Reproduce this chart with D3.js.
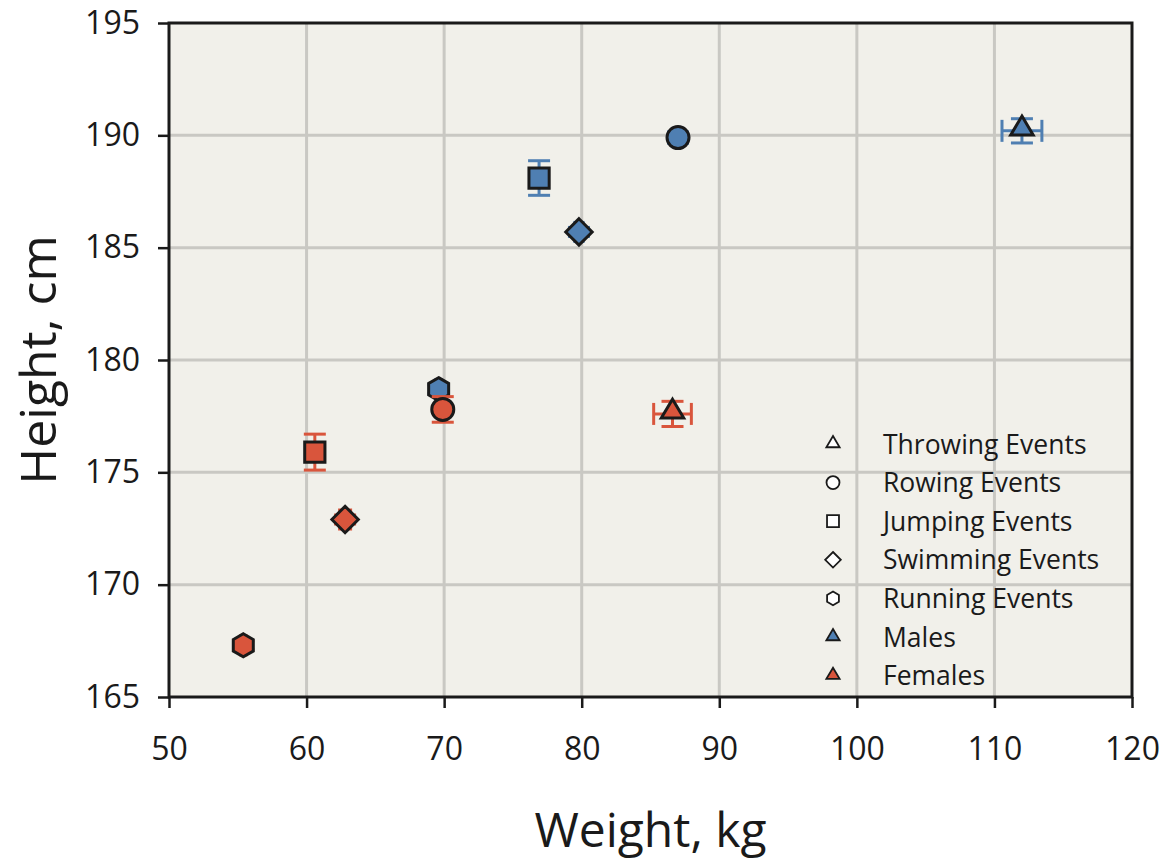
<!DOCTYPE html>
<html>
<head>
<meta charset="utf-8">
<script src="https://cdn.jsdelivr.net/npm/d3@7"></script>
<style>
  html, body { margin: 0; padding: 0; background: #ffffff; }
  svg text { font-family: "Open Sans", "Noto Sans", sans-serif; fill: #1a1a1a; }
</style>
</head>
<body>
<svg id="chart" width="1171" height="863"></svg>
<script>
// ---- Data ----
const events = ["Throwing", "Rowing", "Jumping", "Swimming", "Running"];
const shapes = ["triangle", "circle", "square", "diamond", "hexagon"];
const maleWeight   = [112.0, 87.0, 76.9, 79.8, 69.6];
const maleHeight   = [190.2, 189.9, 188.1, 185.7, 178.7];
const maleWeightErr = [1.45, 0.3, 0.0, 0.3, 0.2];
const maleHeightErr = [0.54, 0.25, 0.77, 0.2, 0.2];
const femaleWeight = [86.6, 69.9, 60.6, 62.8, 55.4];
const femaleHeight = [177.6, 177.8, 175.9, 172.9, 167.3];
const femaleWeightErr = [1.37, 0.3, 0.0, 0.4, 0.2];
const femaleHeightErr = [0.56, 0.57, 0.8, 0.2, 0.2];
const xTicks = [50, 60, 70, 80, 90, 100, 110, 120];
const yTicks = [165, 170, 175, 180, 185, 190, 195];
const legendLabels = ["Throwing Events", "Rowing Events", "Jumping Events", "Swimming Events", "Running Events", "Males", "Females"];
const legendShapes = ["triangle", "circle", "square", "diamond", "hexagon", "triangle", "triangle"];
const legendFills = ["#ffffff", "#ffffff", "#ffffff", "#ffffff", "#ffffff", "#4f7fb2", "#d9553c"];
const maleColor = "#4f7fb2";
const femaleColor = "#d9553c";

// ---- Layout ----
const svg = d3.select("#chart");
const L = 169, R = 1132, T = 23, B = 697;
const x = d3.scaleLinear().domain([50, 120]).range([L, R]);
const y = d3.scaleLinear().domain([165, 195]).range([B, T]);

svg.append("rect").attr("x", L).attr("y", T).attr("width", R - L).attr("height", B - T)
  .attr("fill", "#f1f0ea");

// grid
const grid = svg.append("g");
grid.selectAll(".gx").data(xTicks.slice(1, -1)).enter().append("line")
  .attr("x1", d => x(d)).attr("x2", d => x(d)).attr("y1", T).attr("y2", B)
  .attr("stroke", "#c9c8c3").attr("stroke-width", 3);
grid.selectAll(".gy").data(yTicks.slice(1, -1)).enter().append("line")
  .attr("y1", d => y(d)).attr("y2", d => y(d)).attr("x1", L).attr("x2", R)
  .attr("stroke", "#c9c8c3").attr("stroke-width", 3);

// axes
const xAxis = svg.append("g").attr("transform", `translate(0,${B})`)
  .call(d3.axisBottom(x).tickValues(xTicks).tickSize(11).tickPadding(29).tickFormat(d3.format("d")));
const yAxis = svg.append("g").attr("transform", `translate(${L},0)`)
  .call(d3.axisLeft(y).tickValues(yTicks).tickSize(11).tickPadding(18).tickFormat(d3.format("d")));
[xAxis, yAxis].forEach(a => {
  a.select(".domain").remove();
  a.selectAll(".tick line").attr("stroke", "#1a1a1a").attr("stroke-width", 2.5);
  a.selectAll(".tick text").attr("font-size", 32).attr("fill", "#1a1a1a")
    .style("font-family", '"Open Sans", sans-serif');
});

// frame
svg.append("rect").attr("x", L).attr("y", T).attr("width", R - L).attr("height", B - T)
  .attr("fill", "none").attr("stroke", "#1a1a1a").attr("stroke-width", 3);

// axis titles
svg.append("text").attr("x", (L + R) / 2).attr("y", 847).attr("text-anchor", "middle")
  .attr("font-size", 48).text("Weight, kg");
svg.append("text").attr("transform", `translate(56,${(T + B) / 2}) rotate(-90)`)
  .attr("text-anchor", "middle").attr("font-size", 50).text("Height, cm");

// ---- symbol paths ----
function shapePath(shape, s) {
  if (shape === "circle") {
    const p = d3.path(); p.arc(0, 0, s, 0, 2 * Math.PI); p.closePath(); return p.toString();
  }
  if (shape === "square") {
    const h = s * 0.92;
    return `M${-h},${-h}L${h},${-h}L${h},${h}L${-h},${h}Z`;
  }
  if (shape === "diamond") {
    const h = s * 1.2;
    return `M0,${-h}L${h},0L0,${h}L${-h},0Z`;
  }
  if (shape === "triangle") {
    const w = s * 1.02, ht = s * 1.72;
    return `M0,${-ht * 0.62}L${w},${ht * 0.38}L${-w},${ht * 0.38}Z`;
  }
  if (shape === "hexagon") {
    const r = s * 1.05;
    const pts = d3.range(6).map(i => {
      const a = -Math.PI / 2 + i * Math.PI / 3;
      return [r * Math.cos(a), r * Math.sin(a)];
    });
    return "M" + pts.map(p => p.join(",")).join("L") + "Z";
  }
}

function drawSeries(wts, hts, we, he, color) {
  const data = wts.map((w, i) => ({ w, h: hts[i], we: we[i], he: he[i], shape: shapes[i] }));
  const g = svg.append("g");
  const cap = 11;
  data.forEach(d => {
    const cx = x(d.w), cy = y(d.h);
    const eg = g.append("g").attr("stroke", color).attr("stroke-width", 3).attr("fill", "none");
    if (d.he > 0) {
      const y1 = y(d.h + d.he), y2 = y(d.h - d.he);
      eg.append("line").attr("x1", cx).attr("x2", cx).attr("y1", y1).attr("y2", y2);
      eg.append("line").attr("x1", cx - cap).attr("x2", cx + cap).attr("y1", y1).attr("y2", y1);
      eg.append("line").attr("x1", cx - cap).attr("x2", cx + cap).attr("y1", y2).attr("y2", y2);
    }
    if (d.we > 0) {
      const x1 = x(d.w - d.we), x2 = x(d.w + d.we);
      eg.append("line").attr("y1", cy).attr("y2", cy).attr("x1", x1).attr("x2", x2);
      eg.append("line").attr("y1", cy - cap).attr("y2", cy + cap).attr("x1", x1).attr("x2", x1);
      eg.append("line").attr("y1", cy - cap).attr("y2", cy + cap).attr("x1", x2).attr("x2", x2);
    }
    const dy = d.shape === "triangle" ? -3 : 0;
    g.append("path").attr("d", shapePath(d.shape, 11))
      .attr("transform", `translate(${cx},${cy + dy})`)
      .attr("fill", color).attr("stroke", "#1a1a1a").attr("stroke-width", 3)
      .attr("stroke-linejoin", "miter");
  });
}
drawSeries(maleWeight, maleHeight, maleWeightErr, maleHeightErr, maleColor);
drawSeries(femaleWeight, femaleHeight, femaleWeightErr, femaleHeightErr, femaleColor);

// ---- legend ----
const lg = svg.append("g");
const legY0 = 444, legStep = 38.6;
legendLabels.forEach((lab, i) => {
  const cy = legY0 + i * legStep;
  lg.append("path").attr("d", shapePath(legendShapes[i], 6.5))
    .attr("transform", `translate(833,${cy - (legendShapes[i] === "triangle" ? 1 : 0)})`)
    .attr("fill", legendFills[i]).attr("stroke", "#1a1a1a").attr("stroke-width", 1.8);
  lg.append("text").attr("x", 883).attr("y", cy).attr("dy", "0.36em")
    .attr("font-size", 26.5).text(lab);
});
</script>
</body>
</html>
